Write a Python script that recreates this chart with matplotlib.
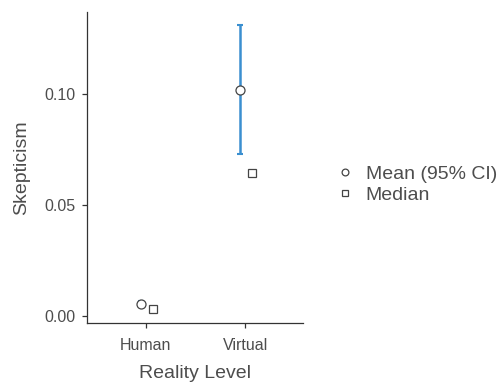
import matplotlib.pyplot as plt
import numpy as np

plt.rcParams['font.family'] = ['Liberation Sans', 'DejaVu Sans']

# data
categories = ["Human", "Virtual"]
means = [0.0054, 0.1018]
ci_low = [0.0045, 0.0730]
ci_high = [0.0068, 0.1310]
medians = [0.0032, 0.0644]

fig = plt.figure(figsize=(5.04, 3.92), dpi=100)
ax = fig.add_axes([0.173, 0.176, 0.428, 0.793])

x = np.arange(1, len(categories) + 1)
means = np.array(means)
yerr = [means - np.array(ci_low), np.array(ci_high) - means]

ax.errorbar(x - 0.05, means, yerr=yerr, fmt='none', ecolor='#3a8fd0',
            elinewidth=1.8, capsize=2, capthick=1.5, zorder=2)
ax.plot(x - 0.05, means, 'o', ms=6.5, mfc='white', mec='#444444', mew=0.9,
        ls='none', zorder=3, label='Mean (95% CI)')
ax.plot(x + 0.07, medians, 's', ms=6, mfc='white', mec='#444444', mew=0.9,
        ls='none', zorder=3, label='Median')

ax.set_xlim(0.41, 2.58)
ax.set_ylim(-0.0032, 0.137)
ax.set_xticks(x)
ax.set_xticklabels(categories)
ax.set_yticks([0.0, 0.05, 0.10])
ax.set_yticklabels(['0.00', '0.05', '0.10'])

for s in ['top', 'right']:
    ax.spines[s].set_visible(False)
for s in ['left', 'bottom']:
    ax.spines[s].set_color('#333333')
    ax.spines[s].set_linewidth(0.9)
ax.tick_params(colors='#333333', labelcolor='#4d4d4d', labelsize=11.5,
               length=3.5, width=0.9)
ax.tick_params(axis='x', pad=7)
ax.tick_params(axis='y', pad=5)

ax.set_xlabel('Reality Level', fontsize=14, color='#4d4d4d', labelpad=9)
ax.set_ylabel('Skepticism', fontsize=14, color='#4d4d4d', labelpad=10)

ax.legend(loc='center left', bbox_to_anchor=(1.07, 0.445), frameon=False,
          fontsize=14, handlelength=1.0, handletextpad=0.55, markerscale=0.75,
          labelspacing=0.2, labelcolor='#4d4d4d')

fig.savefig('out.png', dpi=100)
